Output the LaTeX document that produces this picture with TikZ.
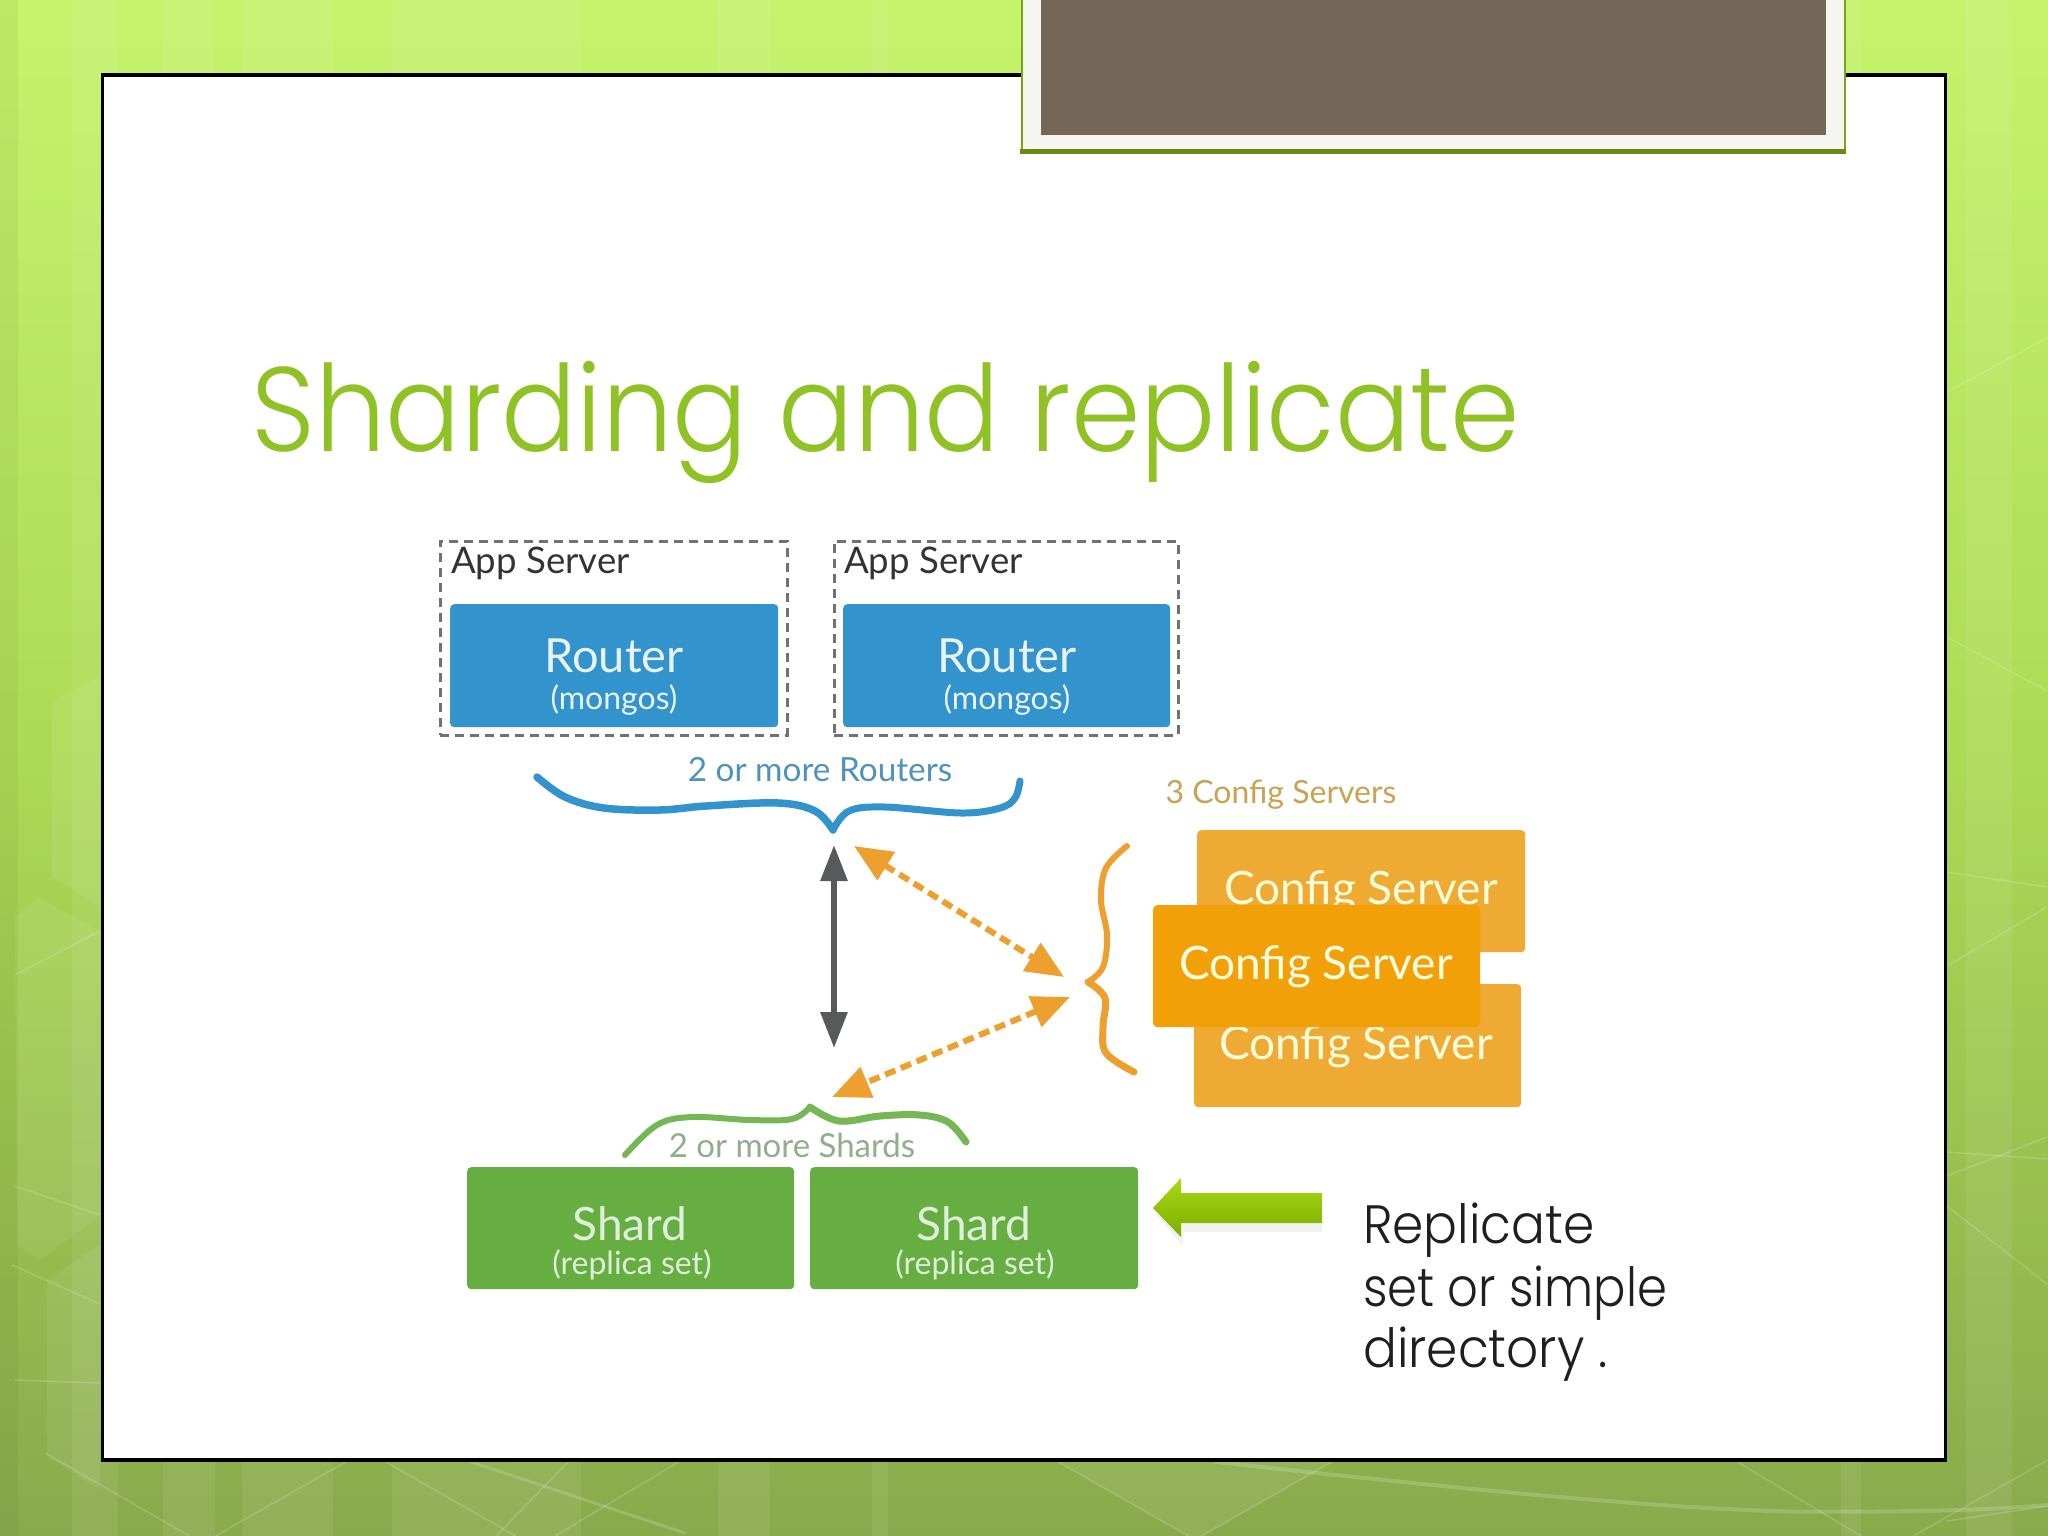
\documentclass[tikz,border=0pt]{standalone}
\usepackage{fontspec}
\usetikzlibrary{arrows.meta}
\newfontfamily\gillf{Lato}
\newfontfamily\gothf{Poppins}[UprightFont=* Light,FakeStretch=0.93]
\newfontfamily\gothg{Poppins}[UprightFont=* Light,FakeStretch=0.89]
\definecolor{brownc}{HTML}{74675A}
\definecolor{framefill}{HTML}{F5F6F2}
\definecolor{framegreen}{HTML}{7BA314}
\definecolor{titlegreen}{HTML}{90C226}
\definecolor{routerc}{HTML}{3393CC}
\definecolor{routerlab}{HTML}{4F93BA}
\definecolor{cfgback}{HTML}{EFAA33}
\definecolor{cfgfront}{HTML}{F2A008}
\definecolor{cfglab}{HTML}{C9A352}
\definecolor{cfgarrow}{HTML}{EDA02E}
\definecolor{shardc}{HTML}{66AE42}
\definecolor{shardlab}{HTML}{8FAE8A}
\definecolor{grayarrow}{HTML}{58595B}
\definecolor{bgtop}{HTML}{C5F36C}
\definecolor{bgmid}{HTML}{ABDA55}
\definecolor{bgbot}{HTML}{89AA4C}
\definecolor{arrtop}{HTML}{A8D814}
\definecolor{arrbot}{HTML}{7CAE00}
\tikzset{
  x=1pt,y=-1pt,
  box/.style={anchor=north west,inner sep=0pt,rounded corners=4pt,draw=none},
  appbox/.style={anchor=north west,inner sep=0pt,draw=grayarrow!85,line width=3.5pt,dash pattern=on 9pt off 6pt},
  lab/.style={anchor=base,inner sep=0pt,font=\gillf},
  big/.style={lab,text=#1,font=\gillf\fontsize{47}{50}\selectfont},
  sub/.style={lab,text=#1,font=\gillf\fontsize{32}{36}\selectfont},
  small/.style={lab,text=#1,font=\gillf\fontsize{33.3}{36}\selectfont},
  goth/.style={anchor=base west,inner sep=0pt,font=\gothf\fontsize{#1}{#1}\selectfont},
  bline/.style={draw=white,opacity=.17,line width=1.6pt},
  bstripe/.style={fill=white,opacity=.07,draw=none},
  brc/.style={line width=#1,line cap=round,line join=round},
  dbl/.style={line width=6pt,{Triangle[length=36pt,width=26pt]}-{Triangle[length=36pt,width=26pt]}},
  ddash/.style={cfgarrow,line width=6pt,dash pattern=on 11pt off 6pt,{Triangle[length=38pt,width=32pt]}-{Triangle[length=38pt,width=32pt]}},
}
\begin{document}
\begin{tikzpicture}
\useasboundingbox (0,0) rectangle (2048,1536);
% background
\shade[top color=bgtop,bottom color=bgbot,middle color=bgmid] (0,0) rectangle (2048,1536);
\foreach \a/\b in {72/118,163/215,242/333,392/581,718/770,872/888,1841/1861,1966/2012}
  \fill[bstripe] (\a,0) rectangle (\b,1536);
\fill[black,opacity=.04] (0,0) rectangle (18,1536);
% side panels and lines
\fill[bstripe] (52,700) -- (100,676) -- (100,906) -- (52,877) -- cycle;
\fill[bstripe] (15,917) -- (38,897) -- (100,931) -- (100,1215) -- (40,1260) -- (17,1245) -- cycle;
\fill[bstripe] (47,1280) -- (100,1245) -- (100,1490) -- (47,1456) -- cycle;
\draw[bline] (15,975) -- (100,931);
\draw[bline] (15,1186) -- (100,1215);
\draw[bline] (12,1265) -- (100,1304);
\draw[bline] (15,1380) -- (100,1383);
\draw[bline] (1947,392) -- (2047,338);
\draw[bline] (1947,637) -- (2047,691);
\draw[bline] (1947,872) -- (2047,887);
\draw[bline] (1947,966) -- (2047,907);
\draw[bline] (1947,1152) -- (2047,1159);
\draw[bline] (1947,1176) -- (2047,1137);
\draw[bline] (1947,1206) -- (2047,1284);
\draw[bline] (1947,1521) -- (2047,1506);
\begin{scope}[x=1.306pt,y=-0.3333pt,yshift=-1450pt]
  \fill[bstripe] (810,35) -- (1020,35) -- (920,258) -- (910,258) -- cycle;
  \draw[bline] (35,10) -- (145,258);
  \draw[bline] (165,258) -- (265,35);
  \draw[bline] (295,35) -- (395,258);
  \draw[bline] (380,258) -- (435,35);
  \draw[bline] (425,258) -- (520,35);
  \draw[bline,line width=3pt] (360,35) -- (525,250);
  \draw[bline] (810,35) -- (910,258);
  \draw[bline] (920,258) -- (1020,35);
  \draw[bline] (1330,35) -- (1425,258);
  \draw[bline] (1465,258) -- (1568,30);
  \draw[bline,line width=4pt] (930,35) .. controls (1100,110) and (1300,190) .. (1400,185) .. controls (1480,185) and (1530,178) .. (1568,165);
\end{scope}
% slide panel
\fill[black] (101,73) rectangle (1947,1462);
\fill[white] (104,77) rectangle (1944,1458);
% title frame
\draw[draw=framegreen,fill=framefill,line width=2.4pt] (1022,-5) rectangle (1845,151);
\fill[framegreen!85!black] (1020,149) rectangle (1846,154);
\fill[brownc] (1041,-5) rectangle (1826,135);
% title
\node[goth=120,text=titlegreen] (title) at (251,451) {Sharding and replicate};
% app servers
\node[appbox,minimum width=347pt,minimum height=194pt] (app1) at (438.5,539.5) {};
\node[appbox,minimum width=344pt,minimum height=194pt] (app2) at (832.5,539.5) {};
\node[lab,anchor=base west,text=black!80,font=\gillf\fontsize{36.6}{38}\selectfont] (app1t) at (451,573) {App Server};
\node[lab,anchor=base west,text=black!80,font=\gillf\fontsize{36.6}{38}\selectfont] (app2t) at (844,573) {App Server};
\node[box,fill=routerc,minimum width=328pt,minimum height=123pt] (r1) at (450,604) {};
\node[box,fill=routerc,minimum width=327pt,minimum height=123pt] (r2) at (843,604) {};
\node[big=routerc!12!white] (r1a) at (614,672) {Router};
\node[big=routerc!12!white] (r2a) at (1007,672) {Router};
\node[sub=routerc!12!white] (r1b) at (614,709) {(mongos)};
\node[sub=routerc!12!white] (r2b) at (1007,709) {(mongos)};
\node[small=routerlab] (rlab) at (820,781) {2 or more Routers};
% blue brace
\draw[routerc,brc=7.5pt] plot[smooth,tension=.6] coordinates {(537,777) (565,797) (604,808) (660,810) (706,806) (778,803) (815,811) (833,830)};
\draw[routerc,brc=7pt] plot[smooth,tension=.6] coordinates {(833,830) (849,811) (885,807) (961,813) (1000,808) (1015,798) (1020,781)};
% config
\node[lab,text=cfglab,font=\gillf\fontsize{32}{36}\selectfont] (clab) at (1281,803) {3 Config Servers};
\node[box,fill=cfgback,minimum width=328pt,minimum height=122pt] (c1) at (1197,830) {};
\node[box,fill=cfgback,minimum width=327pt,minimum height=123pt] (c3) at (1194,984) {};
\node[lab,text=white!85!yellow,font=\gillf\fontsize{46}{50}\selectfont] (c1t) at (1361,904) {Config Server};
\node[lab,text=white!85!yellow,font=\gillf\fontsize{46}{50}\selectfont] (c3t) at (1356,1059) {Config Server};
\node[box,fill=cfgfront,minimum width=327pt,minimum height=122pt] (c2) at (1153,905) {};
\node[lab,text=white!88!yellow,font=\gillf\fontsize{46}{50}\selectfont] (c2t) at (1316,979) {Config Server};
% orange brace
\draw[cfgarrow,brc=6pt] plot[smooth,tension=.6] coordinates {(1127,846) (1106,868) (1101,900) (1107,935) (1103,967) (1088,982)};
\draw[cfgarrow,brc=7pt] plot[smooth,tension=.6] coordinates {(1088,982) (1105,998) (1103,1027) (1106,1053) (1134,1072)};
% connectors
\coordinate (gA) at (834,845);
\coordinate (gB) at (834,1048);
\draw[grayarrow,dbl] (gA) -- (gB);
\coordinate (oA) at (854,846);
\coordinate (oB) at (1064,977);
\coordinate (oC) at (1070,997);
\coordinate (oD) at (832,1097);
\draw[ddash] (oA) -- (oB);
\draw[ddash] (oC) -- (oD);
% shards
\node[lab,text=shardlab,font=\gillf\fontsize{33}{36}\selectfont] (slab) at (792,1157) {2 or more Shards};
\draw[shardc!90!white,brc=6pt] plot[smooth,tension=.6] coordinates {(625,1155) (657,1125) (692,1117) (750,1120) (792,1119) (810,1107)};
\draw[shardc!90!white,brc=7pt] plot[smooth,tension=.6] coordinates {(810,1107) (839,1121) (880,1116) (920,1115) (948,1122) (966,1142)};
\node[box,fill=shardc,minimum width=327pt,minimum height=122pt] (s1) at (467,1167) {};
\node[box,fill=shardc,minimum width=328pt,minimum height=122pt] (s2) at (810,1167) {};
\node[lab,text=shardc!20!white,font=\gillf\fontsize{46}{50}\selectfont] (s1a) at (630,1240) {Shard};
\node[lab,text=shardc!20!white,font=\gillf\fontsize{46}{50}\selectfont] (s2a) at (974,1240) {Shard};
\node[sub=shardc!20!white] (s1b) at (632,1274) {(replica set)};
\node[sub=shardc!20!white] (s2b) at (975,1274) {(replica set)};
% green block arrow
\fill[black,opacity=.05] (1155,1214) -- (1183,1246) -- (1183,1232) -- (1322,1232) -- (1322,1202) -- (1183,1202) -- cycle;
\shade[top color=arrtop,bottom color=arrbot] (1153,1208) -- (1181,1178) -- (1181,1193) -- (1322,1193) -- (1322,1223) -- (1181,1223) -- (1181,1237) -- cycle;
% side note
\node[goth=54,text=black!88] (n1) at (1363,1243) {Replicate};
\node[goth=54,text=black!88,font=\gothg\fontsize{54}{54}\selectfont] (n2) at (1363,1306) {set or simple};
\node[goth=54,text=black!88] (n3) at (1363,1367) {directory .};
\end{tikzpicture}
\end{document}
